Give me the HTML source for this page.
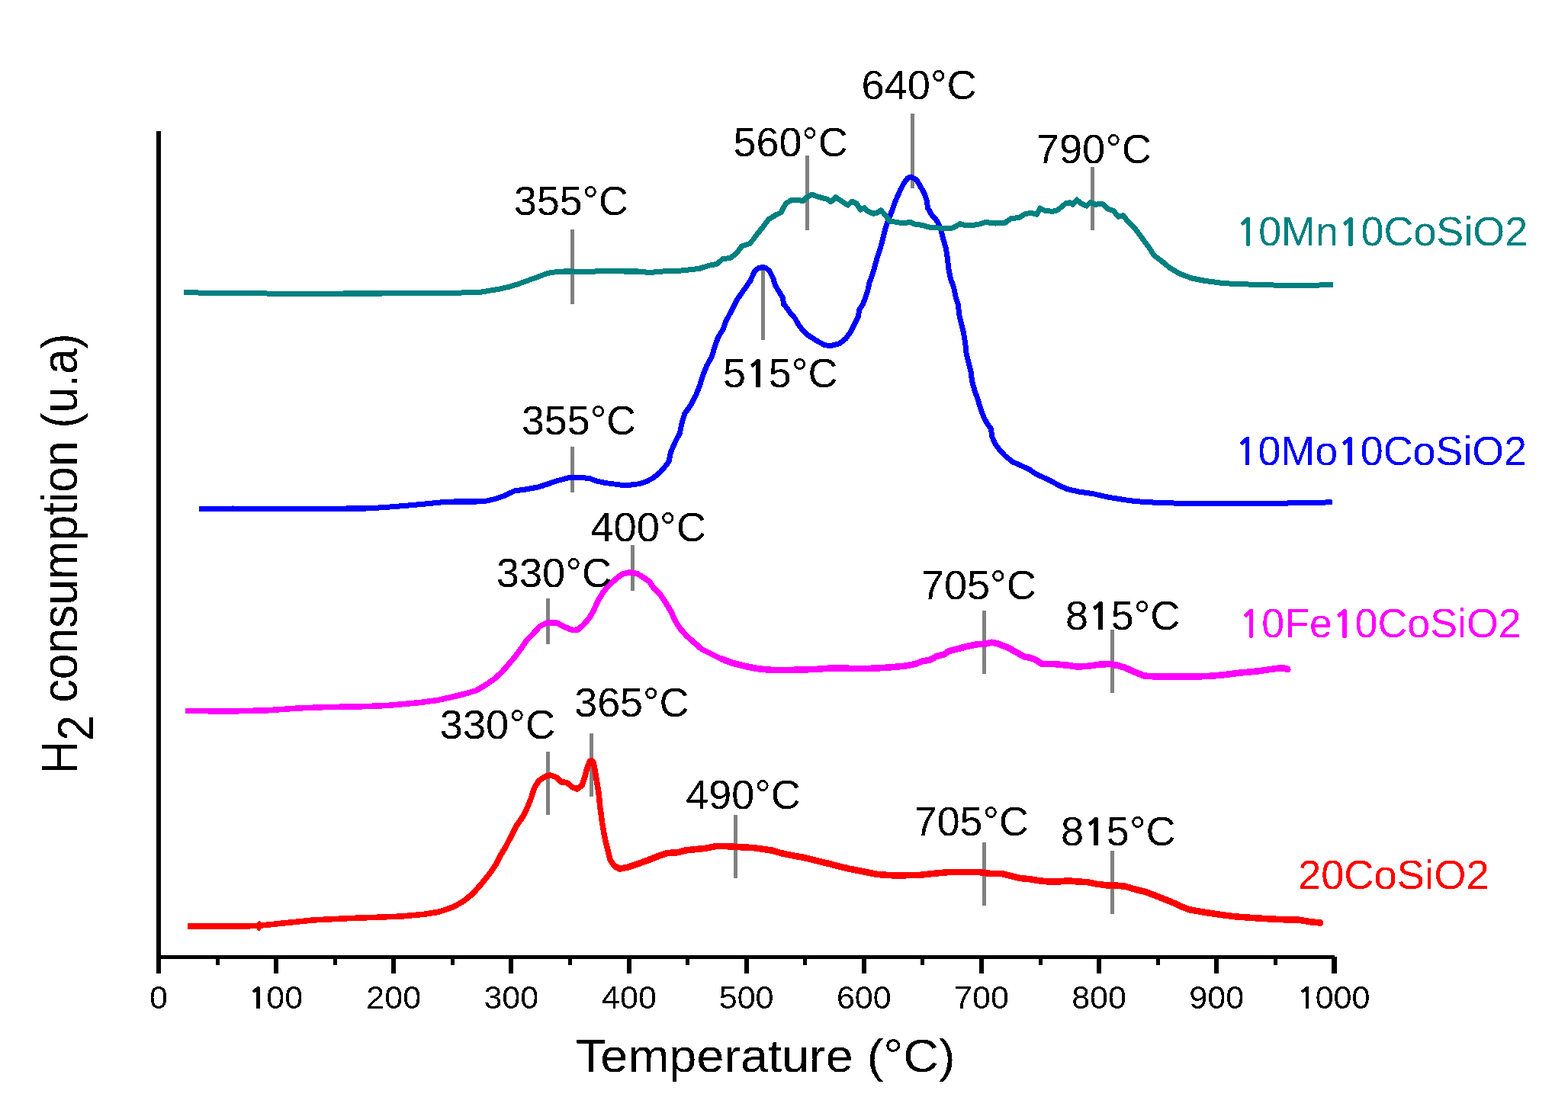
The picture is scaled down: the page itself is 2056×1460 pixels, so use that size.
<!DOCTYPE html>
<html><head><meta charset="utf-8"><style>
html,body{margin:0;padding:0;background:#fff;}
svg{display:block;}
text{font-family:"Liberation Sans",Arial,sans-serif;}
</style></head><body>
<svg width="2056" height="1460" viewBox="0 0 2056 1460">
<defs><filter id="crisp" filterUnits="userSpaceOnUse" x="0" y="0" width="2056" height="1460" color-interpolation-filters="sRGB"><feComponentTransfer><feFuncA type="discrete" tableValues="0 1"/></feComponentTransfer></filter></defs>
<rect width="2056" height="1460" fill="#fff"/>
<g filter="url(#crisp)">
<rect x="205" y="172" width="6" height="1105" fill="#000"/>
<rect x="205" y="1253" width="1545" height="5" fill="#000"/>
<rect x="359.15" y="1255" width="6" height="22" fill="#000"/>
<rect x="513.30" y="1255" width="6" height="22" fill="#000"/>
<rect x="667.45" y="1255" width="6" height="22" fill="#000"/>
<rect x="821.60" y="1255" width="6" height="22" fill="#000"/>
<rect x="975.75" y="1255" width="6" height="22" fill="#000"/>
<rect x="1129.90" y="1255" width="6" height="22" fill="#000"/>
<rect x="1284.05" y="1255" width="6" height="22" fill="#000"/>
<rect x="1438.20" y="1255" width="6" height="22" fill="#000"/>
<rect x="1592.35" y="1255" width="6" height="22" fill="#000"/>
<rect x="1746.50" y="1255" width="6" height="22" fill="#000"/>
<rect x="282.57" y="1255" width="5" height="11" fill="#000"/>
<rect x="436.73" y="1255" width="5" height="11" fill="#000"/>
<rect x="590.88" y="1255" width="5" height="11" fill="#000"/>
<rect x="745.02" y="1255" width="5" height="11" fill="#000"/>
<rect x="899.18" y="1255" width="5" height="11" fill="#000"/>
<rect x="1053.33" y="1255" width="5" height="11" fill="#000"/>
<rect x="1207.47" y="1255" width="5" height="11" fill="#000"/>
<rect x="1361.62" y="1255" width="5" height="11" fill="#000"/>
<rect x="1515.78" y="1255" width="5" height="11" fill="#000"/>
<rect x="1669.93" y="1255" width="5" height="11" fill="#000"/>
<text transform="translate(196.00 1323.00) scale(1.0000 1)" font-size="43" fill="#000">0</text>
<text transform="translate(325.65 1323.00) scale(1.0000 1)" font-size="43" fill="#000"><tspan font-family="NanumGothic, Liberation Sans, sans-serif" font-weight="bold" font-size="39.08">1</tspan>00</text>
<text transform="translate(480.30 1323.00) scale(1.0000 1)" font-size="43" fill="#000">200</text>
<text transform="translate(634.45 1323.00) scale(1.0000 1)" font-size="43" fill="#000">300</text>
<text transform="translate(789.10 1323.00) scale(1.0000 1)" font-size="43" fill="#000">400</text>
<text transform="translate(942.75 1323.00) scale(1.0000 1)" font-size="43" fill="#000">500</text>
<text transform="translate(1096.90 1323.00) scale(1.0000 1)" font-size="43" fill="#000">600</text>
<text transform="translate(1251.05 1323.00) scale(1.0000 1)" font-size="43" fill="#000">700</text>
<text transform="translate(1405.20 1323.00) scale(1.0000 1)" font-size="43" fill="#000">800</text>
<text transform="translate(1559.35 1323.00) scale(1.0000 1)" font-size="43" fill="#000">900</text>
<text transform="translate(1701.00 1323.00) scale(1.0000 1)" font-size="43" fill="#000"><tspan font-family="NanumGothic, Liberation Sans, sans-serif" font-weight="bold" font-size="39.08">1</tspan>000</text>
<rect x="748.00" y="301.00" width="5" height="98.00" fill="#808080"/>
<rect x="1056.00" y="204.00" width="5" height="97.70" fill="#808080"/>
<rect x="1194.00" y="149.00" width="5" height="97.60" fill="#808080"/>
<rect x="1430.00" y="219.00" width="5" height="82.70" fill="#808080"/>
<rect x="997.90" y="354.10" width="5" height="92.30" fill="#808080"/>
<rect x="748.10" y="586.10" width="5" height="59.80" fill="#808080"/>
<rect x="827.10" y="715.00" width="5" height="59.60" fill="#808080"/>
<rect x="716.00" y="785.10" width="5" height="59.70" fill="#808080"/>
<rect x="1288.00" y="801.00" width="5" height="82.80" fill="#808080"/>
<rect x="1456.10" y="826.30" width="5" height="82.30" fill="#808080"/>
<rect x="716.00" y="986.20" width="5" height="82.50" fill="#808080"/>
<rect x="773.00" y="962.00" width="5" height="82.50" fill="#808080"/>
<rect x="962.00" y="1069.20" width="5" height="82.60" fill="#808080"/>
<rect x="1288.00" y="1105.20" width="5" height="82.60" fill="#808080"/>
<rect x="1456.00" y="1116.30" width="5" height="82.30" fill="#808080"/>
<polyline points="261.25,667.50 305.00,667.00 380.00,667.50 455.00,667.00 480.00,667.00 505.00,665.50 530.00,663.50 555.00,661.25 580.00,658.75 600.00,657.80 625.10,658.00 637.60,657.20 650.10,654.30 662.70,649.70 675.20,643.70 687.80,642.20 706.60,638.70 719.10,634.60 731.60,630.30 744.20,627.10 756.70,626.10 773.00,627.40 781.80,630.90 794.30,633.60 813.10,635.90 825.60,636.20 838.20,634.60 848.20,631.50 857.00,626.50 865.00,620.00 871.30,613.00 877.00,605.50 879.50,593.00 885.10,580.40 891.40,567.90 893.90,555.40 897.70,542.80 906.40,530.30 912.70,517.80 917.70,505.20 921.50,492.70 926.50,480.10 933.40,467.60 937.20,455.10 941.50,442.50 947.80,432.50 952.00,421.00 958.30,409.30 966.50,393.00 975.30,380.40 984.00,367.90 989.70,355.40 995.00,351.50 1000.30,350.50 1004.00,351.50 1008.80,355.00 1013.80,365.10 1016.30,373.80 1020.70,381.40 1026.30,390.10 1027.60,398.90 1032.60,405.20 1037.00,411.50 1042.60,417.70 1046.40,425.20 1052.70,433.40 1060.20,440.30 1070.20,446.60 1081.50,452.80 1090.30,453.40 1100.30,450.90 1109.10,444.00 1115.30,435.30 1120.30,425.20 1125.40,415.20 1126.60,406.40 1131.60,398.90 1134.80,390.10 1137.70,381.50 1139.80,371.30 1143.00,362.80 1146.50,351.50 1150.00,338.50 1154.40,325.40 1157.60,312.80 1160.70,300.30 1165.10,287.80 1170.10,275.20 1174.50,262.70 1180.10,250.10 1185.20,240.10 1190.20,233.60 1194.60,232.00 1201.50,235.60 1206.50,243.90 1211.50,252.70 1215.20,262.70 1216.50,272.70 1221.50,281.50 1229.00,290.30 1233.40,300.30 1236.60,312.80 1240.30,325.40 1242.20,337.90 1243.80,352.50 1246.30,365.10 1250.70,377.60 1253.20,390.10 1256.50,400.00 1257.60,412.50 1260.70,425.10 1263.20,435.10 1265.70,450.10 1267.00,462.70 1269.80,475.20 1273.20,487.80 1274.50,500.30 1278.20,512.80 1282.60,525.40 1286.40,537.90 1290.10,547.90 1295.20,556.70 1299.40,562.50 1300.70,572.50 1305.00,582.60 1310.70,590.10 1317.60,597.60 1327.60,605.80 1340.10,611.40 1348.90,615.20 1357.70,621.40 1367.70,626.20 1377.80,630.80 1387.80,636.50 1399.10,641.50 1415.40,645.20 1434.20,647.80 1453.00,652.10 1471.80,655.30 1490.60,657.80 1515.60,659.30 1547.00,660.30 1600.00,660.50 1650.00,660.50 1708.00,659.80 1746.75,658.75" fill="none" stroke="#0000ff" stroke-width="7" stroke-linejoin="round" stroke-linecap="butt"/>
<polyline points="241.00,383.50 260.00,384.00 300.00,384.50 350.00,385.00 400.00,385.40 450.00,385.00 500.00,385.00 550.00,384.80 580.00,384.50 605.00,383.90 630.10,383.20 642.70,381.10 655.20,379.00 667.80,376.10 680.30,372.30 692.80,367.80 705.40,363.20 717.90,358.50 730.40,356.40 743.00,355.80 768.00,356.40 793.10,355.50 818.20,356.00 837.00,356.00 851.50,357.50 869.00,356.00 880.00,355.40 892.50,355.00 905.00,353.70 917.60,352.20 930.10,348.10 940.20,346.20 947.70,339.70 957.70,338.40 965.20,332.80 972.80,322.80 982.80,319.60 987.80,314.00 992.80,307.10 1000.30,297.70 1007.90,287.70 1017.90,281.60 1024.20,278.90 1030.40,266.60 1038.00,262.60 1048.00,262.80 1053.00,263.80 1058.00,258.80 1064.30,255.10 1074.30,258.50 1085.60,261.60 1089.40,264.70 1095.60,258.80 1105.70,265.40 1111.90,269.10 1116.90,264.10 1123.20,267.00 1128.20,275.10 1133.20,272.60 1137.50,277.10 1145.00,280.20 1150.00,279.20 1155.10,275.80 1160.10,281.50 1166.40,289.90 1173.90,291.10 1183.90,292.80 1193.90,291.50 1200.20,294.30 1209.00,295.30 1220.30,298.70 1230.30,299.00 1237.80,299.90 1249.10,299.00 1259.10,293.60 1265.40,295.50 1275.40,295.50 1285.40,293.60 1291.70,291.50 1305.50,293.00 1318.00,292.10 1325.60,286.70 1336.80,285.20 1343.10,281.10 1351.90,279.20 1359.40,281.50 1363.80,273.00 1370.70,276.50 1380.00,277.30 1386.30,275.80 1391.30,272.00 1397.60,266.60 1402.60,265.70 1406.30,268.20 1412.00,262.00 1417.60,267.00 1424.50,270.10 1430.10,265.40 1436.40,268.20 1445.20,267.20 1452.70,274.10 1460.20,276.60 1466.50,284.50 1472.80,282.70 1479.00,290.80 1486.60,297.70 1492.80,305.80 1499.10,314.60 1506.60,324.60 1512.90,334.70 1522.90,342.20 1534.20,351.60 1546.70,359.10 1561.80,364.80 1580.60,368.50 1605.60,371.70 1637.00,372.90 1670.50,374.00 1708.00,374.25 1748.00,373.75" fill="none" stroke="#008080" stroke-width="7" stroke-linejoin="round" stroke-linecap="butt"/>
<polyline points="242.80,932.40 273.90,932.80 312.80,932.80 351.70,931.80 390.60,928.90 429.60,927.40 468.50,927.00 507.40,925.40 546.30,922.10 575.50,918.20 600.00,912.50 612.50,909.30 625.10,905.50 637.60,898.00 650.10,889.20 660.20,879.20 667.70,870.40 675.20,861.60 682.70,851.60 690.30,840.30 699.00,831.50 707.80,821.50 717.80,816.50 730.40,817.10 737.90,821.50 750.40,826.50 758.00,825.90 765.50,819.00 773.00,810.20 778.00,801.50 784.30,787.70 790.50,777.60 798.10,767.60 806.80,760.10 815.60,753.20 825.60,750.70 835.70,752.60 845.70,758.80 851.30,762.60 856.30,770.10 865.00,778.90 872.60,790.10 880.10,802.70 885.10,814.00 891.40,824.00 900.10,834.00 910.20,842.80 920.20,851.60 932.70,857.80 945.30,864.10 960.30,869.70 975.40,873.50 994.20,877.30 1013.00,879.10 1031.80,878.90 1050.60,878.50 1069.40,877.90 1088.20,876.60 1107.00,876.60 1125.10,877.20 1150.10,876.50 1168.90,875.30 1187.80,873.40 1200.30,870.90 1210.30,867.10 1219.10,865.90 1227.90,860.90 1237.90,858.40 1244.20,854.00 1256.70,850.80 1269.20,847.70 1281.80,845.20 1291.80,844.60 1300.60,842.70 1310.60,845.20 1320.60,849.00 1331.90,855.20 1343.20,861.50 1350.00,862.70 1357.50,865.20 1366.30,870.90 1381.30,870.90 1400.10,872.70 1412.70,874.60 1425.20,874.00 1437.80,872.10 1454.00,870.90 1465.30,872.70 1475.40,875.90 1487.90,881.50 1500.40,886.50 1519.20,887.80 1538.00,887.20 1560.00,887.80 1575.60,887.30 1591.10,886.50 1606.70,885.00 1622.30,883.00 1637.80,881.50 1653.40,879.90 1669.00,877.60 1680.60,876.00 1688.00,877.50" fill="none" stroke="#ff00ff" stroke-width="7.5" stroke-linejoin="round" stroke-linecap="butt"/>
<polyline points="945.30,864.10 960.30,869.70 975.40,873.50 994.20,877.30 1013.00,879.10 1031.80,878.90 1050.60,878.50 1069.40,877.90 1088.20,876.60 1107.00,876.60 1125.10,877.20 1150.10,876.50 1168.90,875.30 1187.80,873.40 1200.30,870.90 1210.30,867.10 1219.10,865.90 1227.90,860.90 1237.90,858.40 1244.20,854.00 1256.70,850.80 1269.20,847.70 1281.80,845.20 1291.80,844.60 1300.60,842.70 1310.60,845.20 1320.60,849.00 1331.90,855.20 1343.20,861.50 1350.00,862.70 1357.50,865.20 1366.30,870.90 1381.30,870.90 1400.10,872.70 1412.70,874.60 1425.20,874.00 1437.80,872.10 1454.00,870.90 1465.30,872.70 1475.40,875.90 1487.90,881.50 1500.40,886.50 1519.20,887.80 1538.00,887.20 1560.00,887.80 1575.60,887.30 1591.10,886.50 1606.70,885.00 1622.30,883.00 1637.80,881.50 1653.40,879.90 1669.00,877.60 1680.60,876.00 1688.00,877.50" fill="none" stroke="#ff00ff" stroke-width="8.5" stroke-linejoin="round" stroke-linecap="butt"/>
<polyline points="245.70,1215.10 293.40,1215.10 328.40,1214.70 339.60,1214.20 371.20,1210.90 410.10,1207.00 449.00,1205.00 487.90,1203.50 526.80,1202.10 556.00,1199.20 575.50,1196.30 594.90,1189.50 608.50,1181.70 620.20,1172.00 631.50,1159.20 641.50,1146.70 650.30,1134.20 656.50,1121.60 664.00,1109.10 670.30,1096.60 676.60,1084.00 685.40,1071.50 691.60,1058.90 696.60,1046.40 700.40,1033.90 706.70,1023.80 715.40,1018.20 721.70,1017.00 729.20,1019.50 735.50,1025.70 743.00,1026.40 750.50,1032.60 756.80,1035.10 763.10,1030.10 766.80,1019.00 770.60,1005.00 773.50,998.50 775.50,997.50 777.50,999.00 779.30,1006.00 781.90,1021.30 785.00,1040.10 786.90,1058.90 789.40,1077.80 792.50,1096.60 796.90,1115.40 800.10,1127.90 805.70,1136.30 812.50,1139.60 825.10,1137.10 837.60,1132.70 850.10,1128.30 862.70,1123.30 875.20,1118.90 887.80,1118.30 900.30,1115.20 912.80,1113.90 925.40,1112.70 937.90,1110.10 950.40,1110.10 963.00,1110.80 975.50,1111.40 988.00,1112.00 1000.60,1113.90 1013.10,1115.80 1025.60,1119.50 1038.20,1122.10 1050.40,1124.20 1062.50,1127.00 1075.10,1130.10 1087.60,1133.20 1100.10,1136.40 1112.70,1139.50 1125.20,1142.00 1137.80,1144.50 1150.30,1147.00 1169.10,1148.30 1187.90,1148.30 1206.70,1147.70 1225.50,1145.80 1244.30,1143.90 1263.10,1143.90 1281.90,1143.90 1300.00,1146.00 1312.50,1145.80 1325.10,1148.90 1337.60,1152.10 1350.10,1153.30 1362.70,1155.20 1375.20,1156.50 1387.80,1156.50 1400.30,1155.20 1412.80,1156.50 1425.40,1157.10 1437.90,1159.60 1450.40,1161.20 1463.00,1161.50 1475.50,1162.70 1488.00,1166.50 1500.60,1169.60 1513.10,1174.00 1525.60,1179.00 1540.00,1184.90 1550.20,1189.80 1560.40,1193.40 1580.90,1197.00 1601.30,1200.00 1621.70,1202.60 1642.10,1204.10 1662.60,1205.20 1683.00,1206.20 1703.40,1206.70 1718.80,1209.20 1731.50,1210.50" fill="none" stroke="#ff0000" stroke-width="7.5" stroke-linejoin="round" stroke-linecap="butt"/>
<polyline points="805.70,1136.30 812.50,1139.60 825.10,1137.10 837.60,1132.70 850.10,1128.30 862.70,1123.30 875.20,1118.90 887.80,1118.30 900.30,1115.20 912.80,1113.90 925.40,1112.70 937.90,1110.10 950.40,1110.10 963.00,1110.80 975.50,1111.40 988.00,1112.00 1000.60,1113.90 1013.10,1115.80 1025.60,1119.50 1038.20,1122.10 1050.40,1124.20 1062.50,1127.00 1075.10,1130.10 1087.60,1133.20 1100.10,1136.40 1112.70,1139.50 1125.20,1142.00 1137.80,1144.50 1150.30,1147.00 1169.10,1148.30 1187.90,1148.30 1206.70,1147.70 1225.50,1145.80 1244.30,1143.90 1263.10,1143.90 1281.90,1143.90 1300.00,1146.00 1312.50,1145.80 1325.10,1148.90 1337.60,1152.10 1350.10,1153.30 1362.70,1155.20 1375.20,1156.50 1387.80,1156.50 1400.30,1155.20 1412.80,1156.50 1425.40,1157.10 1437.90,1159.60 1450.40,1161.20 1463.00,1161.50 1475.50,1162.70 1488.00,1166.50 1500.60,1169.60 1513.10,1174.00 1525.60,1179.00 1540.00,1184.90 1550.20,1189.80 1560.40,1193.40 1580.90,1197.00 1601.30,1200.00 1621.70,1202.60 1642.10,1204.10 1662.60,1205.20 1683.00,1206.20 1703.40,1206.70 1718.80,1209.20 1731.50,1210.50" fill="none" stroke="#ff0000" stroke-width="8.5" stroke-linejoin="round" stroke-linecap="butt"/>
<ellipse cx="339.6" cy="1214.8" rx="3.2" ry="6.8" fill="#ff0000"/>
<circle cx="1688" cy="878" r="4.6" fill="#ff00ff"/>
<circle cx="1730.5" cy="1210.5" r="4.6" fill="#ff0000"/>
<text transform="translate(674.02 281.60) scale(1.0135 1)" font-size="53" fill="#000">355°C</text>
<text transform="translate(961.57 204.70) scale(1.0153 1)" font-size="53" fill="#000">560°C</text>
<text transform="translate(1129.53 129.90) scale(1.0224 1)" font-size="53" fill="#000">640°C</text>
<text transform="translate(1358.83 213.70) scale(1.0224 1)" font-size="53" fill="#000">790°C</text>
<text transform="translate(948.06 507.60) scale(1.0187 1)" font-size="53" fill="#000">5<tspan font-family="NanumGothic, Liberation Sans, sans-serif" font-weight="bold" font-size="48.17">1</tspan>5°C</text>
<text transform="translate(683.97 569.80) scale(1.0146 1)" font-size="53" fill="#000">355°C</text>
<text transform="translate(774.22 709.50) scale(1.0259 1)" font-size="53" fill="#000">400°C</text>
<text transform="translate(650.75 769.80) scale(1.0229 1)" font-size="53" fill="#000">330°C</text>
<text transform="translate(1207.84 785.90) scale(1.0210 1)" font-size="53" fill="#000">705°C</text>
<text transform="translate(1396.97 826.25) scale(1.0174 1)" font-size="53" fill="#000">8<tspan font-family="NanumGothic, Liberation Sans, sans-serif" font-weight="bold" font-size="48.17">1</tspan>5°C</text>
<text transform="translate(576.70 968.75) scale(1.0243 1)" font-size="53" fill="#000">330°C</text>
<text transform="translate(753.22 940.00) scale(1.0156 1)" font-size="53" fill="#000">365°C</text>
<text transform="translate(899.23 1060.50) scale(1.0172 1)" font-size="53" fill="#000">490°C</text>
<text transform="translate(1198.86 1095.90) scale(1.0140 1)" font-size="53" fill="#000">705°C</text>
<text transform="translate(1390.96 1109.25) scale(1.0208 1)" font-size="53" fill="#000">8<tspan font-family="NanumGothic, Liberation Sans, sans-serif" font-weight="bold" font-size="48.17">1</tspan>5°C</text>
<text transform="translate(1620.48 321.80) scale(1.0163 1)" font-size="53" fill="#008080"><tspan font-family="NanumGothic, Liberation Sans, sans-serif" font-weight="bold" font-size="48.17">1</tspan>0Mn<tspan font-family="NanumGothic, Liberation Sans, sans-serif" font-weight="bold" font-size="48.17">1</tspan>0CoSiO2</text>
<text transform="translate(1619.84 609.60) scale(1.0151 1)" font-size="53" fill="#0000ff"><tspan font-family="NanumGothic, Liberation Sans, sans-serif" font-weight="bold" font-size="48.17">1</tspan>0Mo<tspan font-family="NanumGothic, Liberation Sans, sans-serif" font-weight="bold" font-size="48.17">1</tspan>0CoSiO2</text>
<text transform="translate(1624.74 835.90) scale(1.0145 1)" font-size="53" fill="#ff00ff"><tspan font-family="NanumGothic, Liberation Sans, sans-serif" font-weight="bold" font-size="48.17">1</tspan>0Fe<tspan font-family="NanumGothic, Liberation Sans, sans-serif" font-weight="bold" font-size="48.17">1</tspan>0CoSiO2</text>
<text transform="translate(1701.92 1166.10) scale(1.0255 1)" font-size="53" fill="#ff0000">20CoSiO2</text>
<text transform="translate(754.95 1406.00) scale(1.0454 1)" font-size="62" fill="#000">Temperature (°C)</text>
<text transform="translate(101 1015.48) rotate(-90) scale(0.9164 1)" font-size="66" fill="#000">H<tspan dy="21">2</tspan><tspan dy="-21"> consumption (u.a)</tspan></text>
</g>
</svg>
</body></html>
